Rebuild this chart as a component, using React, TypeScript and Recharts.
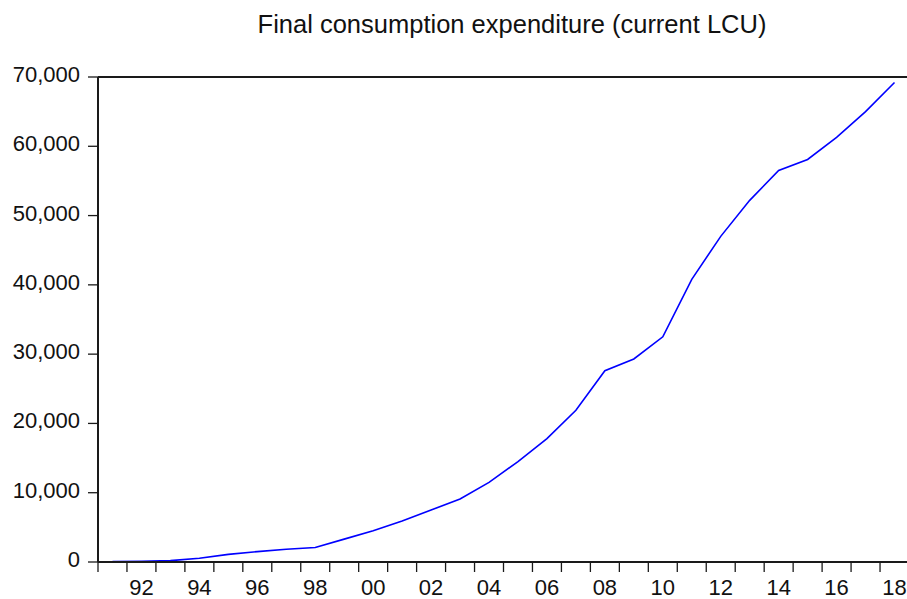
import { LineChart, Line, XAxis, YAxis, ReferenceLine } from "recharts";

/* ---------------- Data ---------------- */

const YEARS = [
  1991, 1992, 1993, 1994, 1995, 1996, 1997, 1998, 1999, 2000, 2001, 2002, 2003, 2004,
  2005, 2006, 2007, 2008, 2009, 2010, 2011, 2012, 2013, 2014, 2015, 2016, 2017, 2018,
];

const CONSUMPTION = [
  50, 100, 200, 550, 1100, 1500, 1850, 2100, 3300, 4500, 5900, 7500, 9100, 11500,
  14500, 17800, 21900, 27600, 29300, 32500, 40800, 47000, 52200, 56500, 58100, 61300, 65000, 69200,
];

// labelled years (every second one) and year boundaries for the small tick marks
const LABEL_YEARS = [1992, 1994, 1996, 1998, 2000, 2002, 2004, 2006, 2008, 2010, 2012, 2014, 2016, 2018];
const BOUNDARIES = [
  1990.5, 1991.5, 1992.5, 1993.5, 1994.5, 1995.5, 1996.5, 1997.5, 1998.5, 1999.5, 2000.5, 2001.5,
  2002.5, 2003.5, 2004.5, 2005.5, 2006.5, 2007.5, 2008.5, 2009.5, 2010.5, 2011.5, 2012.5, 2013.5,
  2014.5, 2015.5, 2016.5, 2017.5, 2018.5,
];
const Y_TICKS = [0, 10000, 20000, 30000, 40000, 50000, 60000, 70000];

const TITLE = "Final consumption expenditure (current LCU)";

const data = YEARS.map((year, i) => ({ year, value: CONSUMPTION[i] }));

const FONT = "'Liberation Sans', Arial, Helvetica, sans-serif";
const AXIS = "#1a1a1a";

const YTick = ({ x, y, payload }: any) => (
  <text x={x} y={y + 5} textAnchor="end" fontSize={22} fill="#111" fontFamily={FONT}>
    {Number(payload.value).toLocaleString("en-US")}
  </text>
);

const XTick = ({ x, y, payload }: any) => (
  <text x={x} y={y + 32} textAnchor="middle" fontSize={22} fill="#111" fontFamily={FONT}>
    {String(payload.value).slice(2)}
  </text>
);

export default function App() {
  return (
    <div
      style={{
        position: "absolute",
        left: 0,
        top: 0,
        width: 907,
        height: 599,
        overflow: "hidden",
        background: "#fff",
        fontFamily: FONT,
      }}
    >
      {/* Title */}
      <div
        style={{
          position: "absolute",
          left: 512,
          top: 9,
          transform: "translateX(-50%)",
          whiteSpace: "nowrap",
          fontSize: 25.5,
          lineHeight: "30px",
          color: "#111",
        }}
      >
        {TITLE}
      </div>

      <LineChart width={910} height={599} data={data} margin={{ top: 77, right: 1, bottom: 0, left: 0 }}>
        {/* small tick marks between years + bottom axis line */}
        <XAxis
          xAxisId="minor"
          dataKey="year"
          type="number"
          domain={[1990.5, 2018.5]}
          ticks={BOUNDARIES}
          interval={0}
          height={1}
          tickSize={10}
          tickFormatter={() => ""}
          axisLine={{ stroke: AXIS, strokeWidth: 2 }}
          tickLine={{ stroke: AXIS, strokeWidth: 1.3 }}
          allowDataOverflow
        />
        {/* year labels centred in each year slot */}
        <XAxis
          xAxisId="years"
          dataKey="year"
          type="number"
          domain={[1990.5, 2018.5]}
          ticks={LABEL_YEARS}
          interval={0}
          height={36}
          tickSize={0}
          tickMargin={0}
          axisLine={false}
          tickLine={false}
          tick={<XTick />}
          allowDataOverflow
        />
        <YAxis
          type="number"
          domain={[0, 70000]}
          ticks={Y_TICKS}
          interval={0}
          width={98}
          tickSize={10}
          tickMargin={8}
          axisLine={{ stroke: AXIS, strokeWidth: 2 }}
          tickLine={{ stroke: AXIS, strokeWidth: 1.3 }}
          tick={<YTick />}
        />
        {/* top frame line */}
        <ReferenceLine xAxisId="years" y={70000} stroke={AXIS} strokeWidth={2} />

        <Line
          xAxisId="years"
          type="linear"
          dataKey="value"
          stroke="#0000ff"
          strokeWidth={1.6}
          dot={false}
          isAnimationActive={false}
        />
      </LineChart>
    </div>
  );
}
